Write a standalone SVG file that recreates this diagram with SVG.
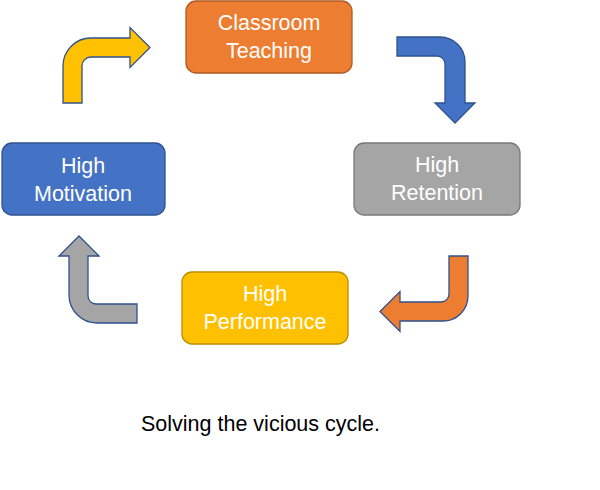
<svg xmlns="http://www.w3.org/2000/svg" width="600" height="490" viewBox="0 0 600 490">
<style>
.box{stroke-width:1.3}
.lbl{font-family:"Liberation Sans",Arial,sans-serif;font-size:21.5px;fill:#FFFFFF;text-anchor:middle}
.arr{stroke:#2F528F;stroke-width:1.3;stroke-linejoin:miter}
.cap{font-family:"Liberation Sans",Arial,sans-serif;font-size:21.5px;fill:#000000}
</style>
<rect width="600" height="490" fill="#FFFFFF"/>
<g id="connectors">
<path class="arr" fill="#FFC000" d="M63,103 L63,66 A28,28 0 0 1 91,38 L130,38 L130,27.5 L150,47.5 L130,67.5 L130,57 L91,57 A9,9 0 0 0 82,66 L82,103 Z"/>
<path class="arr" fill="#4472C4" d="M397,37 L440,37 A25,25 0 0 1 465,62 L465,103 L475,103 L455,123 L435,103 L445,103 L445,64 A8,8 0 0 0 437,56 L397,56 Z"/>
<path class="arr" fill="#ED7D31" d="M449,256 L468,256 L468,296 A25,25 0 0 1 443,321 L400,321 L400,331.5 L380,311.5 L400,291.5 L400,302 L441,302 A8,8 0 0 0 449,294 Z"/>
<path class="arr" fill="#A5A5A5" d="M137,323 L97,323 A28,28 0 0 1 69,295 L69,256 L59,256 L79,236 L99,256 L88,256 L88,296 A8,8 0 0 0 96,304 L137,304 Z"/>
</g>
<g id="classroom-teaching">
<rect class="box" x="186" y="1" width="166" height="72" rx="10" fill="#ED7D31" stroke="#AE5A21"/>
<text class="lbl" x="269" y="30">Classroom</text>
<text class="lbl" x="269" y="58">Teaching</text>
</g>
<g id="high-retention">
<rect class="box" x="354" y="143" width="166" height="72" rx="10" fill="#A5A5A5" stroke="#787878"/>
<text class="lbl" x="437" y="172">High</text>
<text class="lbl" x="437" y="200">Retention</text>
</g>
<g id="high-performance">
<rect class="box" x="182" y="272" width="166" height="72" rx="10" fill="#FFC000" stroke="#BC8C00"/>
<text class="lbl" x="265" y="301">High</text>
<text class="lbl" x="265" y="329">Performance</text>
</g>
<g id="high-motivation">
<rect class="box" x="2" y="143" width="163" height="72" rx="10" fill="#4472C4" stroke="#2F528F"/>
<text class="lbl" x="83" y="173">High</text>
<text class="lbl" x="83" y="201">Motivation</text>
</g>
<text class="cap" x="141" y="431">Solving the vicious cycle.</text>
</svg>
